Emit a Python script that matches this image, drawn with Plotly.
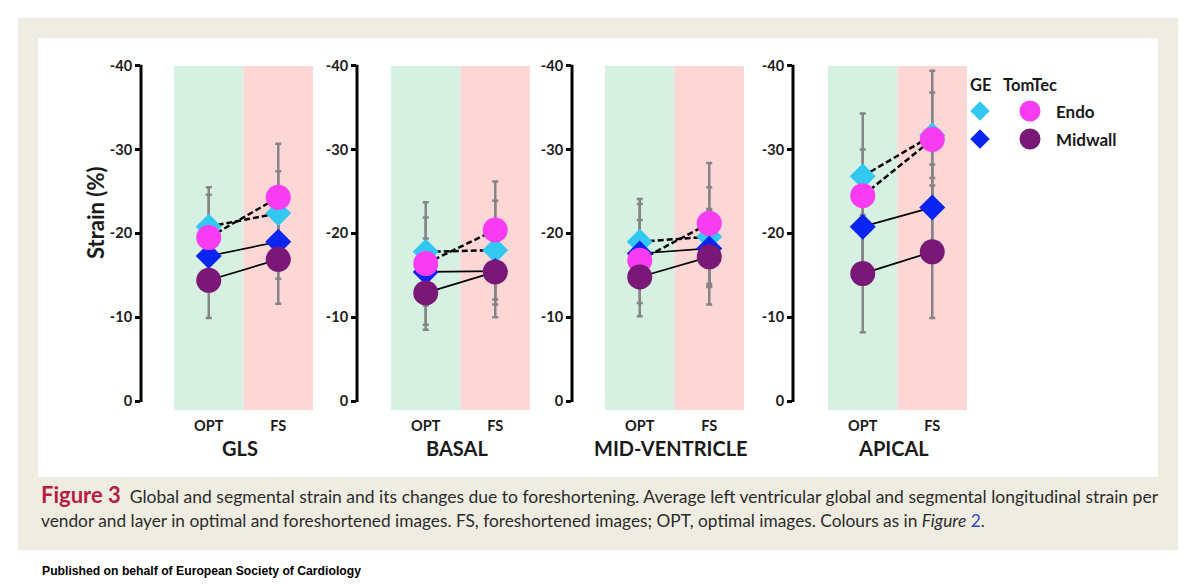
import plotly.graph_objects as go

# ---------------- data ----------------
CATEGORIES = ["OPT", "FS"]
PANELS = ["GLS", "BASAL", "MID-VENTRICLE", "APICAL"]
Y_TICKS = [0, -10, -20, -30, -40]
Y_TICK_TEXT = ["0", "-10", "-20", "-30", "-40"]

# mean strain (%) per panel, [OPT, FS]
GE_ENDO_MEAN = [[-20.8, -22.4], [-17.8, -18.0], [-19.0, -19.6], [-26.8, -31.7]]
GE_ENDO_SD = [[3.8, 5.0], [4.1, 5.9], [5.1, 5.9], [3.2, 5.1]]
TT_ENDO_MEAN = [[-19.5, -24.3], [-16.4, -20.4], [-16.8, -21.2], [-24.5, -31.2]]
TT_ENDO_SD = [[6.0, 6.4], [7.3, 5.8], [6.7, 7.2], [9.8, 8.2]]
GE_MID_MEAN = [[-17.3, -19.0], [-15.4, -15.5], [-17.6, -18.2], [-20.8, -23.1]]
GE_MID_SD = [[4.0, 4.4], [4.0, 4.0], [4.0, 4.6], [5.0, 5.1]]
TT_MID_MEAN = [[-14.4, -16.9], [-12.9, -15.4], [-14.8, -17.2], [-15.2, -17.8]]
TT_MID_SD = [[4.5, 5.3], [4.4, 5.4], [3.1, 5.7], [7.0, 7.9]]

VENDORS = ["GE", "TomTec"]
LAYERS = ["Endo", "Midwall"]

# ---------------- styles ----------------
C_CYAN = "#33c8f2"
C_BLUE = "#0a24f2"
C_MAGENTA = "#f83cf2"
C_PURPLE = "#7a1878"
C_ERR = "#858585"
C_GREEN = "#d6f0e2"
C_PINK = "#fdd6d6"
C_BEIGE = "#efede2"
FONT = "Lato"

SERIES = [
    # (means, sds, color, symbol, size, dash)
    (GE_ENDO_MEAN, GE_ENDO_SD, C_CYAN, "diamond", 20, "6px,3px"),
    (GE_MID_MEAN, GE_MID_SD, C_BLUE, "diamond", 20, "solid"),
    (TT_ENDO_MEAN, TT_ENDO_SD, C_MAGENTA, "circle", 25, "6px,3px"),
    (TT_MID_MEAN, TT_MID_SD, C_PURPLE, "circle", 25, "solid"),
]

W, H = 1200, 584
OFF = 8  # page body margin compensation


def fx(p):
    return (p - OFF) / W


def fy(p):
    return 1 - (p - OFF) / H


Y_TOP_PX, Y_BOT_PX = 65.7, 410.0
Y_RANGE = [1.07, -40]


def ypix(v):
    return Y_TOP_PX + (v - Y_RANGE[1]) / (Y_RANGE[0] - Y_RANGE[1]) * (Y_BOT_PX - Y_TOP_PX)


AXIS_PX = [141, 357, 572, 793]
SHADE_PX = [174, 391, 605, 828]
CAT_W = 69.5

fig = go.Figure()
shapes = [
    dict(type="rect", xref="paper", yref="paper", x0=fx(18), x1=fx(1178), y0=fy(550), y1=fy(18),
         fillcolor=C_BEIGE, line=dict(width=0), layer="below"),
    dict(type="rect", xref="paper", yref="paper", x0=fx(38), x1=fx(1158), y0=fy(477), y1=fy(38),
         fillcolor="white", line=dict(width=0), layer="below"),
]
annotations = []
layout_axes = {}

xcat = [0, 1]
for i, pname in enumerate(PANELS):
    n = "" if i == 0 else str(i + 1)
    xa, ya = "x" + n, "y" + n
    # error bars first (behind everything)
    for means, sds, color, symbol, size, dash in SERIES:
        fig.add_trace(go.Scatter(
            x=xcat, y=means[i], mode="markers", xaxis=xa, yaxis=ya,
            marker=dict(size=1, color="rgba(0,0,0,0)"),
            error_y=dict(type="data", array=sds[i], color=C_ERR, thickness=2.5, width=3),
            showlegend=False, hoverinfo="skip"))
    # connecting lines
    for means, sds, color, symbol, size, dash in SERIES:
        fig.add_trace(go.Scatter(
            x=xcat, y=means[i], mode="lines", xaxis=xa, yaxis=ya,
            line=dict(color="black", width=2.5 if dash != "solid" else 1.7, dash=dash),
            showlegend=False, hoverinfo="skip"))
    # markers
    for means, sds, color, symbol, size, dash in SERIES:
        fig.add_trace(go.Scatter(
            x=xcat, y=means[i], mode="markers", xaxis=xa, yaxis=ya,
            marker=dict(size=size, color=color, symbol=symbol, line=dict(width=0)),
            showlegend=False))

    layout_axes["xaxis" + n] = dict(
        domain=[fx(AXIS_PX[i]), fx(SHADE_PX[i] + 2 * CAT_W)],
        range=[-0.5 - (SHADE_PX[i] - AXIS_PX[i]) / CAT_W, 1.5],
        tickvals=xcat, ticktext=CATEGORIES, ticks="", showgrid=False, zeroline=False,
        showline=False, anchor=ya, fixedrange=True, automargin=False, ticklabelstandoff=5,
        tickfont=dict(family=FONT, size=14.5, color="#1a1a1a", weight="bold"))
    layout_axes["yaxis" + n] = dict(
        domain=[fy(Y_BOT_PX), fy(Y_TOP_PX)], range=Y_RANGE, anchor=xa, automargin=False,
        tickvals=Y_TICKS, ticktext=Y_TICK_TEXT, ticks="outside", ticklen=5, tickwidth=2.5,
        tickcolor="black", showgrid=False, zeroline=False, showline=False, fixedrange=True,
        tickfont=dict(family=FONT, size=14.5, color="#1a1a1a", weight="bold"))

    # shaded columns
    shapes.append(dict(type="rect", xref=xa, yref=ya, x0=-0.5, x1=0.5, y0=Y_RANGE[0], y1=Y_RANGE[1],
                       fillcolor=C_GREEN, line=dict(width=0), layer="below"))
    shapes.append(dict(type="rect", xref=xa, yref=ya, x0=0.5, x1=1.5, y0=Y_RANGE[0], y1=Y_RANGE[1],
                       fillcolor=C_PINK, line=dict(width=0), layer="below"))
    # y axis line (only from 0 to -40)
    shapes.append(dict(type="line", xref="paper", yref="paper", x0=fx(AXIS_PX[i]), x1=fx(AXIS_PX[i]),
                       y0=fy(ypix(0) + 1), y1=fy(ypix(-40) - 1), line=dict(color="black", width=3)))
    # panel title
    annotations.append(dict(text=pname, xref=xa, yref="paper", x=0.5, xshift=-4, y=fy(448),
                            showarrow=False, xanchor="center", yanchor="middle",
                            font=dict(family=FONT, size=20, color="#1a1a1a", weight="bold")))

# y-axis title
annotations.append(dict(text="Strain (%)", xref="paper", yref="paper", x=fx(95), y=fy(213),
                        textangle=-90, showarrow=False, xanchor="center", yanchor="middle",
                        font=dict(family=FONT, size=22, color="#1a1a1a", weight="bold")))

# ---------------- legend (hidden axis) ----------------
leg_series = [
    (0, 0, C_CYAN, "diamond", 15),
    (0, 1, C_BLUE, "diamond", 15),
    (1, 0, C_MAGENTA, "circle", 21),
    (1, 1, C_PURPLE, "circle", 21),
]
for col, row, color, symbol, size in leg_series:
    fig.add_trace(go.Scatter(x=[col], y=[row], mode="markers", xaxis="x5", yaxis="y5",
                             marker=dict(size=size, color=color, symbol=symbol),
                             showlegend=False, hoverinfo="skip"))
layout_axes["xaxis5"] = dict(domain=[fx(955), fx(1055)], range=[-0.5, 1.5], visible=False,
                             anchor="y5", fixedrange=True, automargin=False)
layout_axes["yaxis5"] = dict(domain=[fy(153), fy(69)], range=[1.5, -1.5], visible=False,
                             anchor="x5", fixedrange=True, automargin=False)
for col, v in enumerate(VENDORS):
    annotations.append(dict(text=v, xref="x5", yref="y5", x=col, y=-0.93, showarrow=False,
                            xanchor="center", yanchor="middle",
                            font=dict(family=FONT, size=16.5, color="#1a1a1a", weight="bold")))
for row, lname in enumerate(LAYERS):
    annotations.append(dict(text=lname, xref="x5", yref="y5", x=1.47, y=row, showarrow=False,
                            xanchor="left", yanchor="middle",
                            font=dict(family=FONT, size=17, color="#1a1a1a", weight="bold")))

# ---------------- caption ----------------
CAPTION_1 = ("Global and segmental strain and its changes due to foreshortening. Average left ventricular "
             "global and segmental longitudinal strain per")
CAPTION_2 = ("vendor and layer in optimal and foreshortened images. FS, foreshortened images; OPT, optimal "
             "images. Colours as in <i>Figure</i> <span style='color:#3344cc'>2</span>.")
annotations.append(dict(
    text="<span style='font-size:22px;color:#b81c45'><b>Figure 3</b></span>  " + CAPTION_1,
    xref="paper", yref="paper", x=fx(39), y=fy(494), showarrow=False, xanchor="left", yanchor="middle",
    font=dict(family=FONT, size=17.5, color="#2b2b2b")))
annotations.append(dict(
    text=CAPTION_2, xref="paper", yref="paper", x=fx(39), y=fy(520), showarrow=False,
    xanchor="left", yanchor="middle", font=dict(family=FONT, size=17.3, color="#2b2b2b")))
annotations.append(dict(
    text="<b>Published on behalf of European Society of Cardiology</b>", xref="paper", yref="paper",
    x=fx(40), y=fy(571), showarrow=False, xanchor="left", yanchor="middle",
    font=dict(family="Liberation Sans", size=12.2, color="black")))

fig.update_layout(
    width=W, height=H, margin=dict(l=0, r=0, t=0, b=0, autoexpand=False),
    paper_bgcolor="white", plot_bgcolor="rgba(0,0,0,0)",
    shapes=shapes, annotations=annotations, showlegend=False,
    **layout_axes)

fig.write_html("out.html", config={"displayModeBar": False})
